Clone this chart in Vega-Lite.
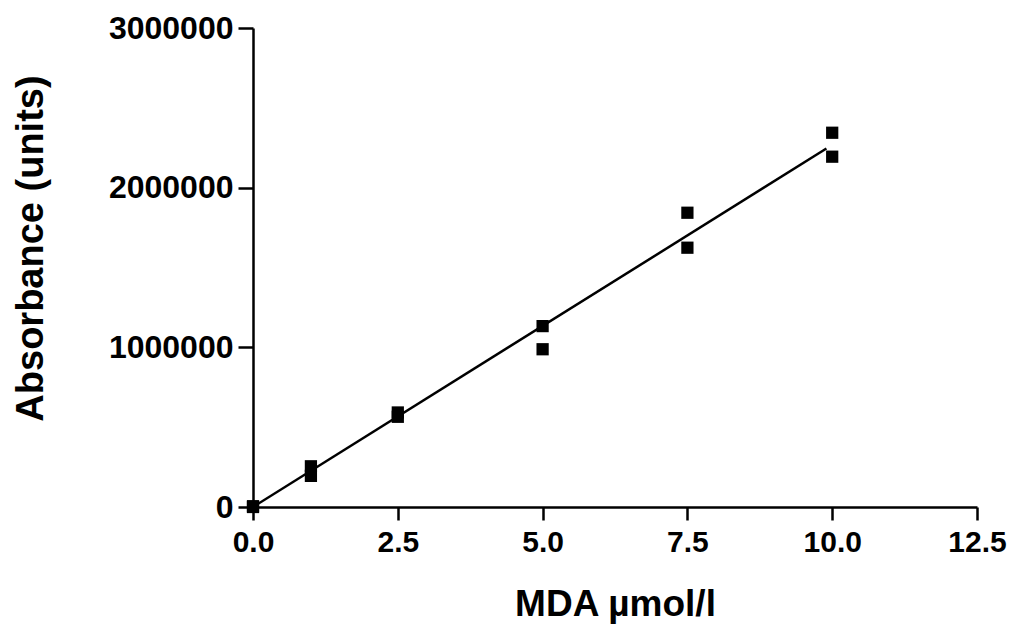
{
  "$schema": "https://vega.github.io/schema/vega-lite/v6.json",
  "width": 724,
  "height": 479,
  "autosize": {"type": "none"},
  "padding": {"left": 253, "top": 28, "right": 35, "bottom": 126},
  "background": "white",
  "config": {
    "view": {"stroke": null},
    "font": "Liberation Sans",
    "axis": {
      "domainColor": "black",
      "domainWidth": 2.5,
      "tickColor": "black",
      "tickWidth": 2.5,
      "labelColor": "black",
      "titleColor": "black",
      "labelFont": "Liberation Sans",
      "titleFont": "Liberation Sans",
      "labelFontWeight": "bold",
      "titleFontWeight": "bold",
      "grid": false
    }
  },
  "datasets": {
    "points": [
      {"x": 0, "y": 0},
      {"x": 0, "y": 5000},
      {"x": 1, "y": 255000},
      {"x": 1, "y": 195000},
      {"x": 2.5, "y": 592000},
      {"x": 2.5, "y": 565000},
      {"x": 5, "y": 1133000},
      {"x": 5, "y": 988000},
      {"x": 7.5, "y": 1843000},
      {"x": 7.5, "y": 1624000},
      {"x": 10, "y": 2344000},
      {"x": 10, "y": 2194000}
    ],
    "fit": [
      {"x": 0, "y": 0},
      {"x": 9.9, "y": 2245000}
    ]
  },
  "layer": [
    {
      "data": {"name": "fit"},
      "mark": {"type": "line", "color": "black", "strokeWidth": 2.5},
      "encoding": {
        "x": {
          "field": "x", "type": "quantitative",
          "scale": {"domain": [0, 12.5], "nice": false, "zero": false},
          "axis": {
            "values": [0, 2.5, 5, 7.5, 10, 12.5],
            "format": ".1f",
            "title": "MDA µmol/l",
            "labelFontSize": 30,
            "titleFontSize": 37,
            "tickSize": 13,
            "labelPadding": 7,
            "titlePadding": 29,
            "labelFlush": false
          }
        },
        "y": {
          "field": "y", "type": "quantitative",
          "scale": {"domain": [0, 3000000], "nice": false},
          "axis": {
            "values": [0, 1000000, 2000000, 3000000],
            "format": "d",
            "title": "Absorbance (units)",
            "labelFontSize": 32,
            "titleFontSize": 38,
            "tickSize": 15,
            "labelPadding": 5,
            "titleX": -203,
            "titleY": 220,
            "labelFlush": false
          }
        }
      }
    },
    {
      "data": {"name": "points"},
      "mark": {"type": "point", "shape": "square", "filled": true, "color": "black", "size": 150, "opacity": 1},
      "encoding": {
        "x": {"field": "x", "type": "quantitative"},
        "y": {"field": "y", "type": "quantitative"}
      }
    }
  ]
}
